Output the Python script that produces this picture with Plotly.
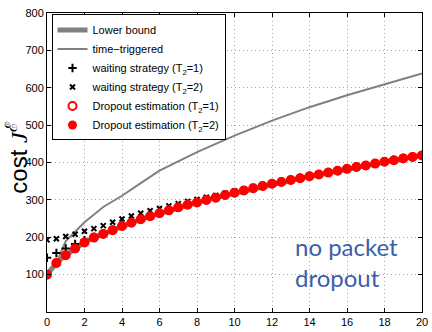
import plotly.graph_objects as go

x_vals = [i * 0.5 for i in range(41)]
dropout_est = [100, 131, 152, 170, 186, 199, 209, 219, 230, 239, 248, 256, 264, 272, 280, 287,
               293, 300, 306, 313, 319, 325, 331, 337, 343, 348, 353, 358, 363, 368, 373, 378,
               383, 388, 392, 397, 402, 406, 411, 415, 419]
lower_bound = dropout_est
wait_t1 = [145, 158, 170, 182, 192, 201, 211, 220, 231, 240, 249, 257, 265, 273, 281, 288,
           294, 301, 307, 314, 320, 326, 332, 338, 344, 349, 354, 359, 364, 369, 374, 379,
           384, 389, 393, 398, 403, 407, 412, 416, 420]
wait_t2 = [193, 196, 202, 208, 216, 223, 231, 240, 249, 257, 264, 271, 277, 284, 290, 296,
           301, 307, 312, 318, 324, 329, 335, 340, 346, 351, 356, 361, 366, 371, 375, 380,
           385, 390, 394, 399, 403, 408, 412, 416, 420]
tt_x = [0, 0.5, 1, 2, 3, 4, 5, 6, 8, 10, 12, 14, 16, 18, 20]
tt_y = [100, 131, 190, 240, 281, 311, 345, 378, 428, 472, 512, 548, 580, 610, 638]

x_ticks = list(range(0, 21, 2))
y_ticks = list(range(100, 801, 100))

fig = go.Figure()
fig.add_trace(go.Scatter(x=x_vals, y=lower_bound, mode="lines", name="Lower bound",
                         line=dict(color="#808080", width=5)))
fig.add_trace(go.Scatter(x=tt_x, y=tt_y, mode="lines", name="time\u2212triggered",
                         line=dict(color="#808080", width=2)))
fig.add_trace(go.Scatter(x=x_vals, y=wait_t1, mode="markers", name="waiting strategy (T<sub>2</sub>=1)",
                         marker=dict(symbol="cross-thin", size=6, line=dict(color="black", width=2))))
fig.add_trace(go.Scatter(x=x_vals, y=wait_t2, mode="markers", name="waiting strategy (T<sub>2</sub>=2)",
                         marker=dict(symbol="x-thin", size=5, line=dict(color="black", width=2))))
fig.add_trace(go.Scatter(x=x_vals, y=dropout_est, mode="markers", name="Dropout estimation (T<sub>2</sub>=1)",
                         marker=dict(symbol="circle-open", size=8, color="red", line=dict(color="red", width=2))))
fig.add_trace(go.Scatter(x=x_vals, y=dropout_est, mode="markers", name="Dropout estimation (T<sub>2</sub>=2)",
                         marker=dict(symbol="circle", size=9, color="#ff0000", line=dict(width=0))))

axis_common = dict(showline=True, linecolor="black", linewidth=1, mirror="ticks",
                   ticks="inside", ticklen=4, tickcolor="black",
                   showgrid=True, gridcolor="#a8a8a8", griddash="1px,3px", gridwidth=1,
                   zeroline=False, ticklabeloverflow="allow",
                   tickfont=dict(family="Liberation Sans", size=11, color="black"))

fig.update_xaxes(range=[0, 20], tickvals=x_ticks, **axis_common)
fig.update_yaxes(range=[0, 800], tickvals=y_ticks, **axis_common)

fig.add_annotation(xref="paper", yref="paper", x=-0.081, y=0.515, xanchor="center", yanchor="middle",
                   text="cost <span style='font-family:Liberation Serif'><i>J</i><sup>\u2130</sup></span>",
                   textangle=-90, showarrow=False,
                   font=dict(family="Liberation Sans", size=24, color="black"))
fig.add_annotation(x=13.1, y=135, xanchor="left", yanchor="middle", align="left",
                   text="no packet<br>dropout", showarrow=False,
                   font=dict(family="Lato", size=24, color="#3b5ea8"))

fig.update_layout(
    width=432, height=332,
    margin=dict(l=47, r=4, t=13, b=20),
    plot_bgcolor="white", paper_bgcolor="white",
    legend=dict(x=0.012, y=0.995, xanchor="left", yanchor="top",
                bgcolor="white", bordercolor="black", borderwidth=1,
                font=dict(family="Liberation Sans", size=11, color="black"),
                tracegroupgap=0, itemwidth=30),
)

fig.write_html("out.html", config={"displayModeBar": False},
               post_script="document.body.style.margin='0';document.body.style.overflow='hidden';")
